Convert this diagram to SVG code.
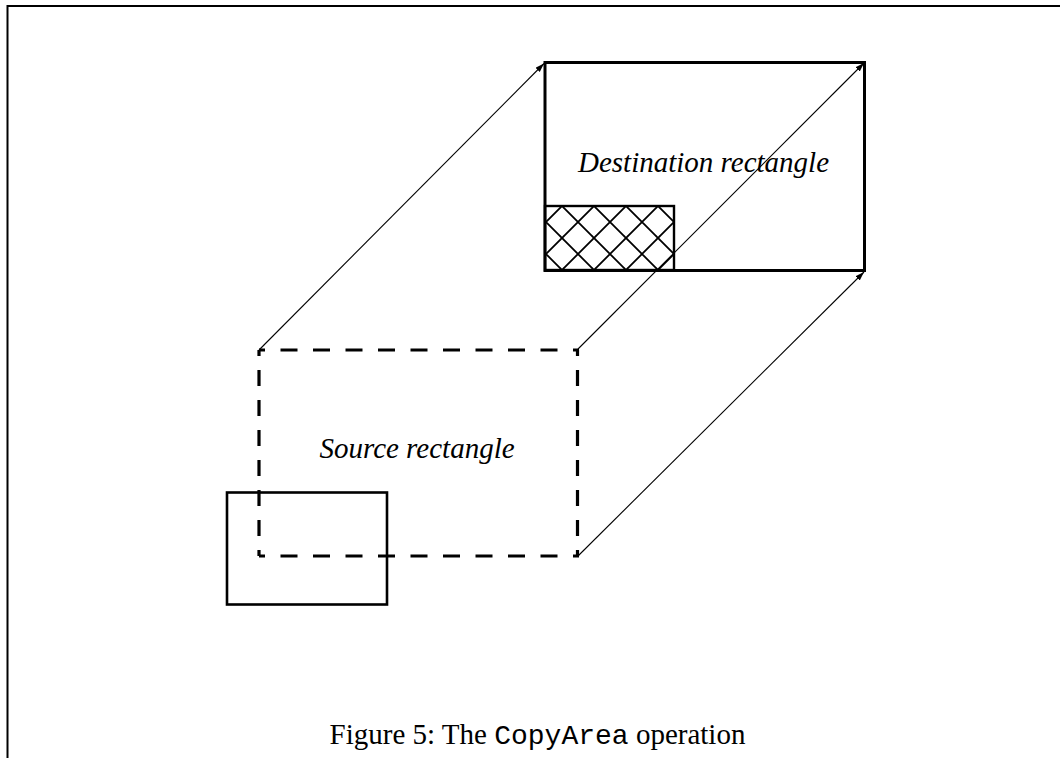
<svg xmlns="http://www.w3.org/2000/svg" width="1060" height="758" viewBox="0 0 1060 758">
  <style>
    .frame { stroke: #000; stroke-width: 2; fill: none; }
    .solid { stroke: #000; stroke-width: 3; fill: none; }
    .dashH { stroke: #000; stroke-width: 3.2; fill: none; stroke-dasharray: 17 15.5; stroke-dashoffset: 11; }
    .dashV { stroke: #000; stroke-width: 3.2; fill: none; stroke-dasharray: 16 14; stroke-dashoffset: 10; }
    .conn { stroke: #000; stroke-width: 1.1; fill: none; marker-end: url(#arrow); }
    .label { font-family: "Liberation Serif", "Times New Roman", serif; font-style: italic; font-size: 29px; fill: #000; }
    .caption { font-family: "Liberation Serif", "Times New Roman", serif; font-size: 29px; fill: #000; }
    .mono { font-family: "Liberation Mono", "Courier New", monospace; font-size: 28px; }
  </style>
  <defs>
    <marker id="arrow" markerUnits="userSpaceOnUse" markerWidth="10" markerHeight="8" refX="9" refY="3" orient="auto">
      <path d="M0,0 L9,3 L0,6 z" fill="#000"/>
    </marker>
    <pattern id="crosshatch" patternUnits="userSpaceOnUse" x="562" y="206" width="32" height="32">
      <path d="M0,0 L32,32 M32,0 L0,32 M-2,-2 L2,2 M30,30 L34,34 M30,2 L34,-2 M-2,34 L2,30" stroke="#000" stroke-width="1.8"/>
    </pattern>
  </defs>

  <rect width="1060" height="758" fill="#fff"/>

  <!-- page frame -->
  <path class="frame" d="M7.5,758 L7.5,6 L1060,6"/>

  <!-- source rectangle (dashed) -->
  <g id="source-rectangle">
    <line class="dashH" x1="259" y1="350" x2="579" y2="350"/>
    <line class="dashH" x1="259" y1="556" x2="579" y2="556"/>
    <line class="dashV" x1="259" y1="350" x2="259" y2="556"/>
    <line class="dashV" x1="577.5" y1="350" x2="577.5" y2="556"/>
    <text class="label" x="417" y="458" text-anchor="middle">Source rectangle</text>
  </g>

  <!-- clipping rectangle overlapping the source -->
  <g id="clip-rectangle">
    <rect class="solid" x="227" y="492.5" width="160" height="112" style="stroke-width:2.6"/>
  </g>

  <!-- destination rectangle with hatched exposed region -->
  <g id="destination-rectangle">
    <rect x="545" y="206" width="129" height="64" fill="url(#crosshatch)"/>
    <rect class="solid" x="545" y="206" width="129" height="64" style="stroke-width:2.4"/>
    <rect class="solid" x="545" y="62.5" width="319.5" height="208"/>
    <text class="label" x="703.5" y="172" text-anchor="middle">Destination rectangle</text>
  </g>

  <!-- copy direction arrows -->
  <g id="connectors">
    <line class="conn" x1="259" y1="350" x2="544" y2="63.5"/>
    <line class="conn" x1="578" y1="349" x2="864" y2="63"/>
    <line class="conn" x1="578" y1="556" x2="864" y2="272"/>
  </g>

  <text class="caption" x="537.5" y="744" text-anchor="middle">Figure 5: The <tspan class="mono">CopyArea</tspan> operation</text>
</svg>
